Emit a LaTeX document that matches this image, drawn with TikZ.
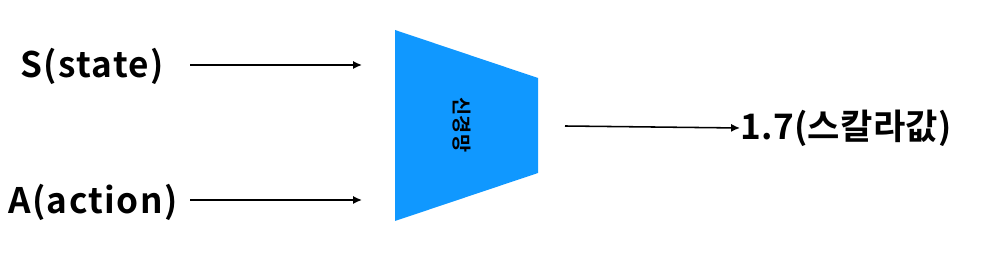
\documentclass[tikz,border=0pt]{standalone}
\usepackage{fontspec}
\setmainfont{Noto Sans CJK KR}[BoldFont={* Bold}]
\usetikzlibrary{positioning,arrows.meta}

\begin{document}
\begin{tikzpicture}[x=0.025cm, y=-0.025cm,
  lbl/.style={font=\bfseries\fontsize{25}{28}\selectfont\addfontfeature{LetterSpace=4}, inner sep=0pt},
  arr/.style={-{Latex[length=2.2mm,width=2mm]}, line width=1.1pt}
]
\useasboundingbox (0,0) rectangle (981,273);

% inputs
\node[lbl] (state) at (92,66) {S(state)};
\node[lbl] (action) at (93,202) {A(action)};
\coordinate (s_out) at (190,65);
\coordinate (a_out) at (190,200);
\coordinate (s_in) at (362,65);
\coordinate (a_in) at (362,200);
\draw[arr] (s_out) -- (s_in);
\draw[arr] (a_out) -- (a_in);

% network
\fill[fill={rgb,255:red,16;green,152;blue,255}] (395,30) -- (538,78) -- (538,173) -- (395,221) -- cycle;
\node[font=\bfseries\fontsize{14}{16}\selectfont, rotate=-90, inner sep=0pt] (net) at (462,125) {신경망};

% output
\node[lbl, font=\bfseries\fontsize{25}{28}\selectfont\addfontfeature{LetterSpace=1}, anchor=west] (value) at (740,128) {1.7(스칼라값)};
\coordinate (v_in) at (565,126);
\draw[arr] (v_in) -- (value.west);
\end{tikzpicture}
\end{document}
